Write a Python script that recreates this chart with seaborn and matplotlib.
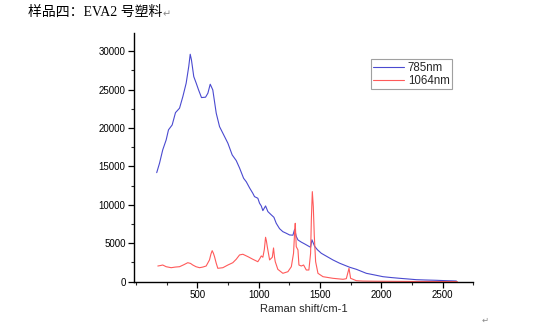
import numpy as np
import pandas as pd
import seaborn as sns
import matplotlib.pyplot as plt
from matplotlib.ticker import MultipleLocator

# 785 nm spectrum (Raman shift, intensity)
x785 = [170, 193, 219, 247, 266, 296, 323, 356, 383, 410, 431, 443, 453, 472, 492,
        511, 535, 568, 587, 606, 627, 655, 682, 723, 750, 785, 818, 845, 878, 900,
        927, 953, 967, 994, 1008, 1022, 1035, 1057, 1076, 1104, 1125, 1144, 1171,
        1198, 1226, 1253, 1280, 1294, 1307, 1321, 1348, 1376, 1410, 1424, 1435,
        1457, 1480, 1511, 1560, 1606, 1661, 1742, 1797, 1878, 1950, 2014, 2080,
        2150, 2220, 2286, 2360, 2449, 2530, 2612]
y785 = [14190, 15420, 17150, 18450, 19760, 20400, 22000, 22580, 24090, 25830, 28000,
        29600, 28870, 26690, 25830, 24960, 23960, 24010, 24530, 25700, 24960, 21930,
        20180, 18880, 18020, 16500, 15760, 14800, 13460, 13000, 12200, 11510, 11070,
        10860, 10210, 9860, 9250, 9860, 9120, 8690, 8380, 7600, 6900, 6510, 6300,
        6080, 6050, 6820, 5900, 5430, 5150, 4910, 4600, 4480, 5450, 4600, 4150,
        3700, 3250, 2830, 2400, 1880, 1610, 1090, 860, 650, 540, 440, 350, 260,
        220, 180, 130, 90]

# 1064 nm spectrum (Raman shift, intensity)
x1064 = [179, 200, 219, 247, 288, 320, 356, 390, 423, 445, 464, 490, 519, 545, 573,
         600, 612, 622, 632, 641, 655, 668, 709, 750, 790, 818, 845, 872, 913, 953,
         994, 1010, 1022, 1035, 1047, 1057, 1064, 1071, 1090, 1112, 1122, 1129, 1136,
         1157, 1198, 1239, 1267, 1285, 1294, 1299, 1307, 1321, 1329, 1348, 1367,
         1389, 1410, 1424, 1430, 1438, 1446, 1454, 1465, 1484, 1525, 1606, 1688,
         1715, 1737, 1750, 1797, 1850, 1950, 2050, 2150, 2250, 2350, 2450, 2550, 2620]
y1064 = [2040, 2100, 2170, 1950, 1820, 1900, 1950, 2200, 2470, 2380, 2170, 1950,
         1820, 1900, 2040, 2830, 3600, 4040, 3700, 3260, 2400, 1740, 1820, 2170,
         2470, 2920, 3480, 3570, 3260, 2920, 2600, 3000, 3350, 3180, 4200, 5780,
         5300, 4560, 2830, 3180, 4390, 3300, 2600, 1610, 1090, 1300, 1950, 3700,
         6500, 7600, 4560, 4130, 2170, 2040, 2170, 1520, 1520, 3700, 8000, 11720,
         9800, 6000, 2600, 1090, 650, 440, 310, 390, 1740, 440, 130, 80, 60, 50, 40,
         30, 30, 20, 20, 10]

series_names = ["785nm", "1064nm"]
colors = ["#4a4ad0", "#ff5a5a"]

xticks = [500, 1000, 1500, 2000, 2500]
yticks = [0, 5000, 10000, 15000, 20000, 25000, 30000]

sns.set_style("ticks")

fig = plt.figure(figsize=(5.41, 3.24), dpi=100)
ax = fig.add_axes([0.2477, 0.1306, 0.6272, 0.7684])

df785 = pd.DataFrame({"shift": x785, "intensity": y785})
df1064 = pd.DataFrame({"shift": x1064, "intensity": y1064})
sns.lineplot(data=df785, x="shift", y="intensity", ax=ax, color=colors[0],
             lw=0.8, sort=False, estimator=None, label=series_names[0])
sns.lineplot(data=df1064, x="shift", y="intensity", ax=ax, color=colors[1],
             lw=0.8, sort=False, estimator=None, label=series_names[1])

ax.set_xlim(-15, 2750)
ax.set_ylim(0, 32400)
ax.set_xticks(xticks)
ax.set_yticks(yticks)
ax.xaxis.set_minor_locator(MultipleLocator(250))
ax.yaxis.set_minor_locator(MultipleLocator(2500))
ax.tick_params(which="major", direction="out", length=4, width=0.9,
               labelsize=7, colors="black", pad=2)
ax.tick_params(which="minor", direction="out", length=2.5, width=0.8)
for lab in ax.get_xticklabels() + ax.get_yticklabels():
    lab.set_family("Liberation Sans")
for s in ["top", "right"]:
    ax.spines[s].set_visible(False)
for s in ["left", "bottom"]:
    ax.spines[s].set_linewidth(1.0)
    ax.spines[s].set_color("black")

ax.set_xlabel("Raman shift/cm-1", fontsize=8, family="Liberation Sans", labelpad=3)
ax.set_ylabel("")

leg = ax.legend(loc="upper right", bbox_to_anchor=(0.937, 0.893), frameon=True,
                fancybox=False, edgecolor="#888888",
                prop={"family": "Liberation Sans", "size": 8.3},
                handlelength=2.7, handletextpad=0.3, borderpad=0.2,
                labelspacing=0.1, borderaxespad=0)
leg.get_frame().set_linewidth(0.8)

fig.text(28 / 541, 1 - 12.5 / 324, "样品四：EVA2 号塑料", fontsize=10,
         family=["Liberation Serif", "Noto Sans CJK SC"], va="center", ha="left",
         color="black")
fig.text(163 / 541, 1 - 14 / 324, "↵", fontsize=7, family="DejaVu Sans",
         va="center", ha="left", color="#888888")
fig.text(482 / 541, 1 - 320 / 324, "↵", fontsize=6, family="DejaVu Sans",
         va="center", ha="left", color="#888888")

fig.savefig("out.png", dpi=100)
